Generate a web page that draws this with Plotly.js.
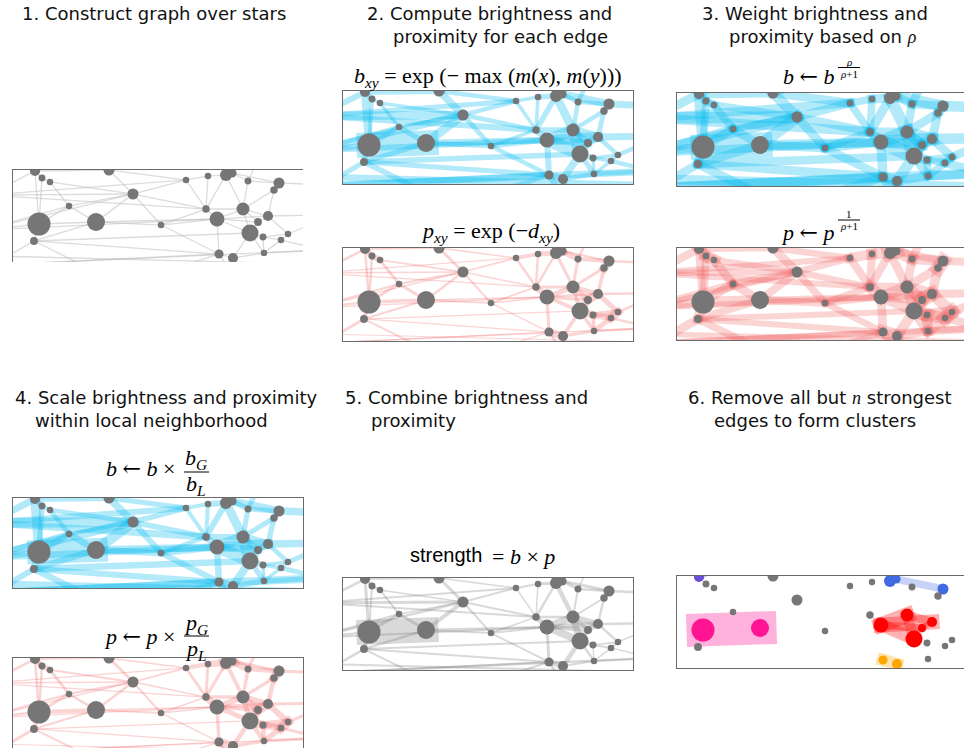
<!DOCTYPE html>
<html><head><meta charset="utf-8">
<script src="https://cdn.plot.ly/plotly-3.0.1.min.js"></script>
<style>html,body{margin:0;padding:0;background:#fff;overflow:hidden}</style>
</head><body><div id="chart" style="width:964px;height:748px"></div>
<script>
// ---------------- DATA ----------------
// star positions (panel data coordinates) ; indices 29+ lie outside the visible window
const starX = [22,29,37,96,120,56,26,83,21,148,173,195,213,219,235,266,261,193,230,204,255,245,237,250,268,275,206,220,251,
               -25,-30,-20,-60,315,320,310,340,55,140,250,110,230,300];
const starY = [1,8,12,0,24,36,54,52,71,55,10,6,5,3,11,13,20,39,39,49,46,52,63,67,70,64,84,88,83,
               25,60,95,85,15,45,80,95,-20,-18,-20,115,120,110];
const starFlux = [.42,.29,.27,.46,.46,.27,.96,.75,.33,.27,.27,.27,.5,.38,.29,.46,.31,.31,.54,.62,.42,.33,.71,.29,.27,.27,.38,.42,.27,
               .3,.3,.3,.3,.3,.3,.3,.3,.3,.3,.3,.3,.3,.3];
// graph edges
const edgeA = [6,0,1,0,1,2,5,5,5,2,3,0,7,6,7,7,4,4,4,3,9,9,9,8,8,6,0,29,30,5,10,10,11,11,12,12,13,12,14,14,15,16,16,17,17,18,18,18,18,19,19,20,21,20,22,23,23,24,22,22,23,27,26,24,15,25,20,24,28,27,26,14,3,0,31,32,30,8,7,8,29,29,13,19,19,40,31];
const edgeB = [7,6,6,1,2,5,6,7,4,4,4,3,4,8,8,9,9,10,17,10,19,26,17,40,31,30,29,4,4,30,11,17,17,12,13,17,14,18,18,15,16,18,20,19,18,19,20,21,22,22,26,21,22,25,23,25,24,25,27,28,28,28,27,28,33,34,34,35,35,41,41,39,38,37,35,36,19,26,19,22,17,10,15,20,21,26,26];
// step 2 : brightness b and proximity p of each edge
const bright = [1,.32,.16,.2,.14,.14,.2,.2,.14,.14,.3,.24,.36,.24,.2,.2,.2,.18,.18,.18,.2,.18,.14,.22,.2,.24,.24,.34,.3,.18,.14,.14,.14,.22,.34,.22,.2,.34,.18,.18,.24,.18,.2,.24,.22,.44,.34,.26,.48,.5,.24,.3,.3,.18,.24,.14,.14,.14,.3,.2,.14,.2,.28,.14,.28,.18,.28,.18,.18,.24,.24,.18,.24,.24,.28,.26,.22,.2,.26,.22,.24,.2,.3,.4,.3,.2,.24];
const prox = [.14,.1,.1,.22,.24,.12,.12,.12,.09,.07,.12,.07,.1,.16,.08,.08,.08,.07,.06,.06,.06,.06,.07,.08,.12,.1,.1,.06,.05,.08,.16,.1,.1,.2,.4,.1,.24,.12,.12,.16,.34,.12,.15,.24,.12,.2,.2,.22,.15,.15,.12,.34,.3,.2,.3,.24,.24,.34,.15,.15,.15,.12,.3,.2,.1,.1,.1,.1,.1,.1,.1,.1,.1,.1,.05,.04,.05,.05,.06,.05,.05,.05,.09,.1,.12,.05,.04];
// step 3 : weighted by rho
const brightW = [1,.42,.32,.35,.3,.3,.35,.35,.3,.3,.42,.36,.48,.36,.35,.35,.35,.34,.34,.34,.35,.34,.3,.36,.35,.36,.36,.46,.42,.34,.3,.3,.3,.36,.46,.36,.35,.46,.34,.34,.38,.34,.35,.38,.36,.56,.46,.4,.58,.6,.38,.44,.44,.34,.38,.3,.3,.3,.44,.35,.3,.35,.42,.3,.42,.34,.42,.34,.34,.38,.38,.34,.38,.38,.4,.38,.34,.35,.38,.34,.38,.35,.44,.52,.44,.35,.38];
const proxW = [.4,.32,.32,.45,.48,.35,.35,.35,.3,.26,.35,.26,.32,.4,.3,.3,.3,.28,.26,.26,.26,.26,.28,.3,.35,.32,.32,.26,.24,.3,.4,.32,.32,.45,.62,.32,.48,.35,.35,.4,.58,.35,.38,.48,.35,.45,.45,.46,.4,.4,.35,.58,.55,.45,.55,.48,.48,.58,.4,.4,.4,.35,.55,.45,.32,.32,.32,.32,.32,.32,.32,.32,.32,.32,.24,.22,.24,.24,.26,.24,.24,.24,.3,.32,.35,.24,.22];
// step 4 : scaled within local neighbourhood
const brightS = [.95,.38,.22,.22,.16,.18,.25,.26,.16,.18,.3,.24,.42,.3,.25,.26,.24,.22,.22,.2,.26,.24,.18,.26,.24,.28,.28,.4,.34,.22,.16,.16,.16,.24,.32,.24,.22,.36,.2,.2,.24,.2,.22,.28,.24,.44,.32,.26,.46,.48,.26,.28,.3,.18,.24,.14,.14,.14,.32,.22,.14,.22,.3,.14,.3,.2,.3,.2,.2,.26,.26,.2,.26,.26,.32,.3,.26,.24,.3,.26,.28,.24,.3,.4,.3,.24,.28];
const proxS = [.16,.1,.1,.22,.22,.12,.12,.1,.09,.08,.12,.07,.1,.16,.08,.08,.08,.07,.06,.06,.06,.06,.07,.08,.12,.1,.1,.06,.05,.08,.18,.12,.12,.26,.5,.12,.28,.16,.14,.18,.36,.14,.18,.28,.14,.24,.24,.26,.2,.2,.14,.38,.34,.24,.34,.28,.28,.38,.18,.18,.18,.14,.34,.22,.12,.12,.12,.12,.12,.12,.12,.12,.1,.1,.05,.04,.05,.05,.06,.05,.05,.05,.12,.14,.16,.05,.04];
// step 5 : strength = b x p
const strength = [1,.12,.08,.14,.1,.08,.12,.12,.06,.06,.12,.08,.16,.16,.1,.08,.08,.08,.08,.06,.08,.08,.06,.08,.1,.1,.1,.12,.1,.08,.08,.06,.06,.12,.3,.1,.12,.18,.08,.1,.16,.08,.1,.2,.1,.3,.22,.16,.28,.3,.12,.2,.2,.1,.16,.08,.08,.1,.18,.1,.06,.08,.22,.06,.1,.06,.1,.06,.06,.1,.1,.06,.08,.08,.1,.08,.08,.08,.1,.08,.08,.08,.12,.2,.16,.08,.08];
// step 6 : clusters (-1 = not in a cluster) : 0 purple, 1 pink, 2 red, 3 blue, 4 orange
const clusterOf = [0,-1,-1,-1,-1,-1,1,1,-1,-1,-1,-1,3,3,-1,3,-1,-1,2,2,2,2,2,-1,-1,-1,4,4,-1,
                   -1,-1,-1,-1,-1,-1,-1,-1,0,-1,-1,-1,-1,-1];
const clusterEdgeA = [6,19,19,19,18,18,21,20,19,13,12,26,0];
const clusterEdgeB = [7,18,20,22,22,20,22,21,21,15,13,27,37];
const clusterEdgeW = [1.32,.62,.6,.5,.42,.34,.26,.24,.3,.3,.18,.5,.3];

// ---------------- STYLE / LAYOUT ----------------
const W = 964, H = 748;
const clusterColor = ['#6a4fd6','#ff1493','#ff0000','#4169e1','#ffa500'];
const clusterEdgeColor = ['rgba(106,79,214,0.3)','rgba(255,20,147,0.32)','rgba(255,0,0,0.3)','rgba(65,105,225,0.3)','rgba(255,165,0,0.3)'];
const BLUE = 'rgba(0,185,240,0.3)', RED = 'rgba(238,90,90,0.26)', GRAY = 'rgba(128,128,128,0.3)';
const panels = [
  {l:13, t:170, w:290, h:92, vals:null, color:'rgba(185,185,185,0.5)', fixed:1.3, openFrame:true},
  {l:343,t:91,  w:290, h:93, vals:bright,   color:BLUE, maxW:25},
  {l:343,t:248, w:290, h:93, vals:prox,     color:RED,  maxW:25},
  {l:677,t:93,  w:287, h:93, vals:brightW,  color:BLUE, maxW:25},
  {l:677,t:248, w:287, h:92, vals:proxW,    color:RED,  maxW:25},
  {l:13, t:498, w:290, h:90, vals:brightS,  color:BLUE, maxW:25},
  {l:13, t:658, w:290, h:90, vals:proxS,    color:RED,  maxW:25},
  {l:343,t:578, w:290, h:92, vals:strength, color:GRAY, maxW:25},
  {l:677,t:576, w:287, h:92, vals:'cluster'}
];

function seg(a, b, w, color, k) {
  const x0 = starX[a], y0 = starY[a], x1 = starX[b], y1 = starY[b];
  const dx = x1 - x0, dy = y1 - y0, L = Math.hypot(dx, dy) || 1;
  const ex = dx / L * w / 2, ey = dy / L * w / 2;
  return {type:'scatter', mode:'lines', x:[x0-ex, x1+ex], y:[y0-ey, y1+ey],
    xaxis:'x'+(k===1?'':k), yaxis:'y'+(k===1?'':k),
    line:{color:color, width:w}, hoverinfo:'skip', showlegend:false};
}

const traces = [];
const layout = {width:W, height:H, margin:{l:0,r:0,t:0,b:0}, paper_bgcolor:'#fff', plot_bgcolor:'rgba(0,0,0,0)',
  showlegend:false, annotations:[], shapes:[], hovermode:false};

panels.forEach((p, idx) => {
  const k = idx + 1, sx = k===1?'':k;
  layout['xaxis'+sx] = {domain:[p.l/W, Math.min(1,(p.l+p.w)/W)], range:[0,p.w], anchor:'y'+sx,
    showgrid:false, zeroline:false, showticklabels:false, ticks:'', showline:true,
    mirror:!p.openFrame, side: p.openFrame ? 'top' : 'bottom',
    linecolor:'#6a6a6a', linewidth:1, fixedrange:true};
  layout['yaxis'+sx] = {domain:[Math.max(0,1-(p.t+p.h)/H), 1-p.t/H], range:[p.h,0], anchor:'x'+sx,
    showgrid:false, zeroline:false, showticklabels:false, ticks:'', showline:true, mirror:!p.openFrame,
    linecolor:'#6a6a6a', linewidth:1, fixedrange:true};
  if (p.vals === 'cluster') {
    clusterEdgeA.forEach((a, i) => {
      const c = clusterOf[a];
      traces.push(seg(a, clusterEdgeB[i], clusterEdgeW[i]*25, clusterEdgeColor[c], k));
    });
  } else {
    edgeA.forEach((a, i) => {
      const w = p.vals ? p.vals[i]*p.maxW : p.fixed;
      traces.push(seg(a, edgeB[i], w, p.color, k));
    });
  }
  traces.push({type:'scatter', mode:'markers', x:starX, y:starY, xaxis:'x'+sx, yaxis:'y'+sx,
    marker:{size:starFlux.map(f=>f*24), opacity:1, line:{width:0},
      color: p.vals==='cluster' ? clusterOf.map(c => c<0 ? '#767676' : clusterColor[c]) : '#767676'},
    hoverinfo:'skip', showlegend:false, cliponaxis:true});
});

// ---------------- TEXT ----------------
const HEAD = {family:'DejaVu Sans', size:18, color:'#111'};
const MATH = {family:'Liberation Serif', size:22, color:'#000'};
const ARROW = '<span style="font-family:DejaVu Serif">←</span>';
function txt(text, x, y, font, xanchor) {
  layout.annotations.push({text:text, x:x/W, y:1-y/H, xref:'paper', yref:'paper',
    xanchor:xanchor||'left', yanchor:'middle', showarrow:false, font:font});
}
function bar(x0, x1, y) {
  layout.shapes.push({type:'line', xref:'paper', yref:'paper', x0:x0/W, x1:x1/W, y0:1-y/H, y1:1-y/H,
    line:{color:'#000', width:1}});
}
txt('1. Construct graph over stars', 20, 14, HEAD);
txt('2. Compute brightness and', 365, 14, HEAD);
txt('proximity for each edge', 391, 37, HEAD);
txt('3. Weight brightness and', 700, 14, HEAD);
txt('proximity based on <i><span style="font-family:Liberation Serif">ρ</span></i>', 727, 37, HEAD);
txt('4. Scale brightness and proximity', 13, 397, HEAD);
txt('within local neighborhood', 33, 420, HEAD);
txt('5. Combine brightness and', 343, 397, HEAD);
txt('proximity', 369, 420, HEAD);
txt('6. Remove all but <i><span style="font-family:Liberation Serif">n</span></i> strongest', 686, 397, HEAD);
txt('edges to form clusters', 712, 420, HEAD);

txt('<i>b</i><sub><i>xy</i></sub> = exp (− max (<i>m</i>(<i>x</i>), <i>m</i>(<i>y</i>)))', 488, 77, MATH, 'center');
txt('<i>p</i><sub><i>xy</i></sub> = exp (−<i>d</i><sub><i>xy</i></sub>)', 490, 232, MATH, 'center');

const SMALL = {family:'Liberation Serif', size:11, color:'#000'};
txt('<i>b</i> ' + ARROW + ' <i>b</i>', 836, 77, MATH, 'right');
txt('<i>ρ</i>', 849, 62, SMALL, 'center'); bar(838, 860, 67.5); txt('<i>ρ</i>+1', 849, 74, SMALL, 'center');
txt('<i>p</i> ' + ARROW + ' <i>p</i>', 836, 232, MATH, 'right');
txt('1', 849, 214, SMALL, 'center'); bar(838, 860, 220); txt('<i>ρ</i>+1', 849, 226, SMALL, 'center');

txt('<i>b</i> ' + ARROW + ' <i>b</i> ×', 177, 469, MATH, 'right');
txt('<i>b</i><sub><i>G</i></sub>', 196, 459, MATH, 'center'); bar(184, 209, 472); txt('<i>b</i><sub><i>L</i></sub>', 196, 485, MATH, 'center');
txt('<i>p</i> ' + ARROW + ' <i>p</i> ×', 177, 636, MATH, 'right');
txt('<i>p</i><sub><i>G</i></sub>', 196, 624, MATH, 'center'); bar(184, 209, 636); txt('<i>p</i><sub><i>L</i></sub>', 196, 650, MATH, 'center');

txt('strength', 484, 555, {family:'Liberation Sans', size:20, color:'#000'}, 'right');
txt('= <i>b</i> × <i>p</i>', 490, 556, MATH, 'left');

Plotly.newPlot('chart', traces, layout, {staticPlot:true, displayModeBar:false});
</script></body></html>
